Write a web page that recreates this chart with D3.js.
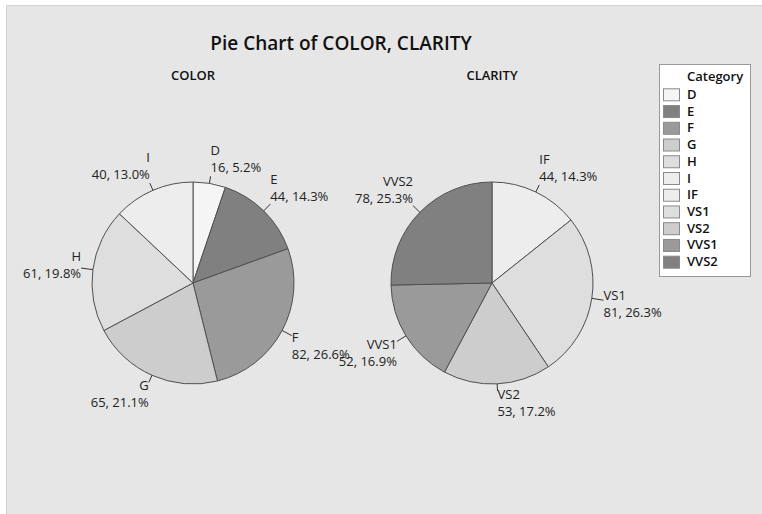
<!DOCTYPE html>
<html><head><meta charset="utf-8">
<script src="https://cdn.jsdelivr.net/npm/d3@7"></script>
<style>
html,body{margin:0;padding:0;background:#fff;}
svg{display:block;font-family:"Open Sans",sans-serif;}
</style></head>
<body>
<script>
const titleText = "Pie Chart of COLOR, CLARITY";
const colorCats = ["D","E","F","G","H","I"];
const colorVals = [16,44,82,65,61,40];
const clarityCats = ["IF","VS1","VS2","VVS1","VVS2"];
const clarityVals = [44,81,53,52,78];
const legendCats = ["D","E","F","G","H","I","IF","VS1","VS2","VVS1","VVS2"];
const legendColors = ["#f5f5f5","#808080","#9a9a9a","#cdcdcd","#dedede","#ededed","#ededed","#dedede","#cdcdcd","#9a9a9a","#808080"];

const W = 762, H = 514;
const svg = d3.select("body").append("svg").attr("width", W).attr("height", H);
svg.append("rect").attr("x", 6.5).attr("y", 5.5).attr("width", W).attr("height", H)
  .attr("fill", "#e6e6e6").attr("stroke", "#d2d2d2");

const color = d3.scaleOrdinal().domain(legendCats).range(legendColors);

svg.append("text").attr("x", 341).attr("y", 50).attr("text-anchor", "middle")
  .attr("font-size", 19).attr("font-weight", 600).attr("fill", "#111").text(titleText);

const R = 101;
const panels = [
  {name: "COLOR", cats: colorCats, vals: colorVals, cx: 193, cy: 283},
  {name: "CLARITY", cats: clarityCats, vals: clarityVals, cx: 492, cy: 283}
];

const pie = d3.pie().sort(null).value(d => d.v);
const arc = d3.arc().innerRadius(0).outerRadius(R);

panels.forEach(p => {
  const data = p.cats.map((c, i) => ({c, v: p.vals[i]}));
  const total = d3.sum(p.vals);
  const g = svg.append("g").attr("transform", `translate(${p.cx},${p.cy})`);
  svg.append("text").attr("x", p.cx).attr("y", 80).attr("text-anchor", "middle")
    .attr("font-size", 13).attr("font-weight", 600).attr("fill", "#111").text(p.name);
  const arcs = pie(data);
  g.selectAll("path.slice").data(arcs).join("path").attr("class", "slice")
    .attr("d", arc).attr("fill", d => color(d.data.c))
    .attr("stroke", "#505050").attr("stroke-width", 1);
  arcs.forEach(a => {
    const m = (a.startAngle + a.endAngle) / 2;
    const s = Math.sin(m), c = Math.cos(m);
    const lr = R + 7 + 5 * s * s;
    const ex = R * s, ey = -R * c;
    const tx = lr * s, ty = -lr * c;
    g.append("line").attr("x1", ex).attr("y1", ey).attr("x2", tx).attr("y2", ty)
      .attr("stroke", "#333").attr("stroke-width", 1);
    const off = Math.max(-17, Math.min(12, -c * 22));
    const center = ty + off;
    const anchor = s >= 0 ? "start" : "end";
    const pct = (a.data.v / total * 100).toFixed(1);
    const t = g.append("text").attr("text-anchor", anchor).attr("font-size", 13).attr("fill", "#222");
    t.append("tspan").attr("x", tx).attr("y", center - 4).text(a.data.c);
    t.append("tspan").attr("x", tx).attr("y", center + 13).text(`${a.data.v}, ${pct}%`);
  });
});

// legend
const lg = svg.append("g");
lg.append("rect").attr("x", 659.5).attr("y", 64.5).attr("width", 91).attr("height", 212)
  .attr("fill", "#fff").attr("stroke", "#999");
lg.append("text").attr("x", 687).attr("y", 81).attr("font-size", 13).attr("font-weight", 600)
  .attr("fill", "#111").text("Category");
const ly = d3.scalePoint().domain(legendCats).range([94.3, 261.7]);
legendCats.forEach(c => {
  lg.append("rect").attr("x", 663.5).attr("y", ly(c) - 5.5).attr("width", 16).attr("height", 12)
    .attr("fill", color(c)).attr("stroke", "#8a8a8a");
  lg.append("text").attr("x", 687).attr("y", ly(c) + 4.5).attr("font-size", 13)
    .attr("font-weight", 600).attr("fill", "#111").text(c);
});
</script>
</body></html>
